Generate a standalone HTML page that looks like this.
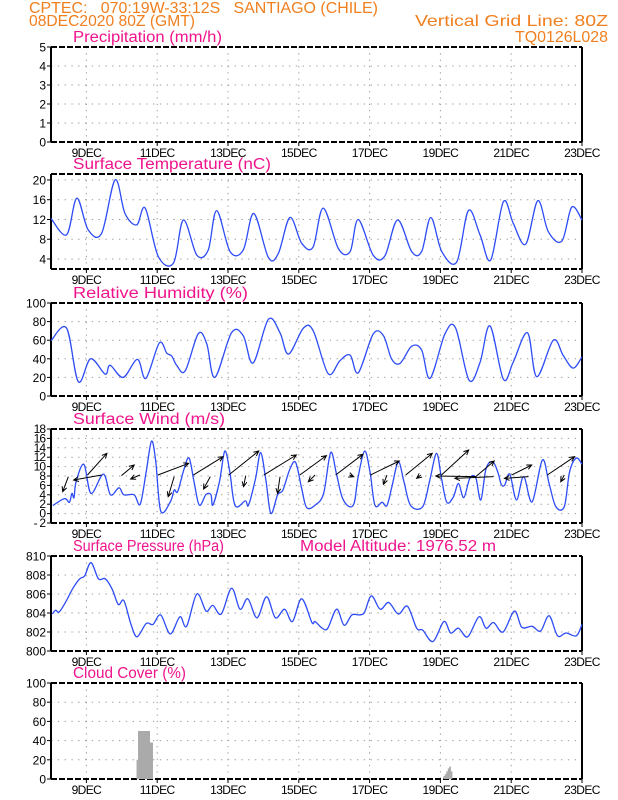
<!DOCTYPE html>
<html><head><meta charset="utf-8">
<style>
html,body{margin:0;padding:0;background:#fff;}
svg{display:block;font-family:"Liberation Sans",sans-serif;}
.hdr{fill:#f07f1f;font-size:16px;}
.ttl{fill:#f0148c;font-size:15.5px;}
.tick{fill:#000;font-size:12px;}
.dl{fill:#000;font-size:12px;letter-spacing:-0.6px;}
</style></head>
<body>
<svg id="chart" width="618" height="800" viewBox="0 0 618 800">
<text class="hdr" x="29" y="13" textLength="349" lengthAdjust="spacingAndGlyphs" xml:space="preserve">CPTEC:   070:19W-33:12S   SANTIAGO (CHILE)</text>
<text class="hdr" x="29" y="26" textLength="166" lengthAdjust="spacingAndGlyphs">08DEC2020 80Z (GMT)</text>
<text class="hdr" x="415" y="26" textLength="193" lengthAdjust="spacingAndGlyphs">Vertical Grid Line: 80Z</text>
<text class="hdr" x="515" y="42" textLength="93" lengthAdjust="spacingAndGlyphs">TQ0126L028</text>
</svg>
<script>
// ---- data (time in days since 08DEC 00Z-ish) ----
const dateLabels = ["9DEC","11DEC","13DEC","15DEC","17DEC","19DEC","21DEC","23DEC"];
const dateDays = [1,3,5,7,9,11,13,15];
const tempDays = [0,0.44,0.73,1.05,1.43,1.81,2.09,2.42,2.66,3.03,3.46,3.74,4.12,4.44,4.68,5.06,5.43,5.73,6.14,6.42,6.75,7.08,7.4,7.69,8.12,8.45,8.68,9.1,9.43,9.79,10.19,10.47,10.73,11.04,11.46,11.79,12.12,12.42,12.78,13.06,13.41,13.75,14.05,14.43,14.71,15];
const tempVals = [12.2,8.9,16.3,9.9,9.2,20,13.2,10.9,14.3,4.5,3.2,11.9,4.8,5.8,13.8,5.5,5.8,13.2,4.3,5.1,12.4,7.2,6.4,14.3,6.1,5.5,12,4.8,4.6,11.9,5.5,5.5,12.4,5.5,3.4,13.8,8.9,3.8,15.6,11.2,7.0,15.8,9.5,7.6,14.5,11.9];
const rhDays = [0,0.44,0.77,1.12,1.53,1.67,2.04,2.44,2.68,3.06,3.27,3.41,3.55,3.79,4.16,4.4,4.63,5.1,5.43,5.71,6.14,6.47,6.71,7.13,7.41,7.83,8.16,8.45,8.68,9.1,9.39,9.62,9.86,10.19,10.47,10.71,11.13,11.43,11.81,12.12,12.4,12.78,13.06,13.46,13.72,14.19,14.47,14.75,15];
const rhVals = [59.5,73,15.4,40,23.5,33,20,39.4,19,57,46,43,33,27,67,56,20,68,65,35.5,82.5,68,45,73,70,24,38,44,25,66.6,65,40,35,53.5,49.6,19,67,73,17,36,75.4,18,36.6,68,20.7,60,43.6,30,42];
const windDays = [0.05,0.38,0.52,0.59,0.65,0.71,0.93,1.13,1.48,1.68,1.92,2.06,2.35,2.52,2.69,2.84,2.96,3.1,3.37,3.48,3.58,3.75,3.9,4.04,4.19,4.38,4.52,4.57,4.76,4.91,5.05,5.2,5.49,5.58,5.78,5.92,6.07,6.21,6.4,6.55,6.74,6.91,7.08,7.22,7.46,7.7,7.9,8.07,8.23,8.43,8.57,8.67,8.86,9.01,9.15,9.35,9.49,9.63,9.81,9.97,10.16,10.5,10.7,10.89,11.03,11.18,11.37,11.51,11.66,11.83,12.0,12.14,12.29,12.48,12.62,12.72,12.82,12.96,13.15,13.35,13.59,13.88,14.07,14.26,14.5,14.65,14.84,15];
const windVals = [1.7,3.2,2.4,4.3,3.4,6.8,10.5,4.3,8.4,4.0,5.5,4.0,4.0,2.0,8.9,15.4,11.0,0.55,2.5,5.0,4.7,9.3,11.8,6.8,1.8,4.1,4.0,1.8,6.8,13.3,8.9,1.7,2.7,1.8,7.5,13.0,7.1,0.05,4.0,5.0,9.3,10.9,5.4,1.3,1.8,4.3,13.0,8.2,3.4,1.5,2.4,7.5,13.3,8.9,1.8,2.4,1.7,5.7,11.0,6.8,1.7,1.5,7.1,12.8,7.5,2.4,3.6,6.4,3.4,7.5,7.6,2.9,9.6,11.0,8.9,6.2,6.1,8.4,2.9,7.9,2.5,11.4,6.4,1.5,1.5,8.9,11.8,10.5];
const arrowStartDays = [0.49,1.03,1.43,1.99,2.51,3.02,3.48,4.02,4.5,5.02,5.5,6.01,6.47,7.03,7.46,8.04,8.43,9.02,9.49,10.02,10.45,11.03,12.0,12.0,12.5,13.01,13.49,14.02,14.5];
const arrowStartVals = [7.86,8.21,8.21,8.07,8.21,8.21,7.86,8.21,7.86,8.21,8.07,8.21,7.86,8.21,8.21,8.21,8.21,8.21,8.21,8.21,8.21,8.21,7.86,7.86,7.86,8.21,7.86,8.21,8.21];
const arrowEndDays = [0.33,1.58,0.64,2.35,2.25,3.89,3.31,4.86,4.31,5.87,5.44,6.93,6.4,7.78,7.27,8.81,8.55,9.84,9.39,10.77,10.33,11.8,10.87,12.52,11.41,13.58,12.81,14.79,14.4];
const arrowEndVals = [4.67,12.82,7.15,10.34,7.36,10.7,3.6,12.11,5.23,13.32,5.73,12.47,4.31,12.33,6.79,12.61,7.86,11.19,6.23,12.82,7.5,13.53,8.0,11.19,7.5,10.34,7.5,12.11,6.79];
const presDays = [0.04,0.13,0.23,0.42,0.62,0.81,0.95,1.13,1.34,1.53,1.73,1.9,2.06,2.26,2.43,2.69,2.88,3.1,3.37,3.64,3.83,4.12,4.38,4.57,4.81,5.1,5.34,5.56,5.82,6.09,6.34,6.6,6.82,7.08,7.37,7.46,7.66,7.82,8.07,8.28,8.5,8.72,8.86,9.05,9.3,9.54,9.81,10.07,10.33,10.5,10.79,11.1,11.29,11.51,11.77,12.09,12.29,12.5,12.77,13.09,13.3,13.59,13.83,14.07,14.31,14.55,14.84,15.0];
const presVals = [803.9,804.3,804.1,805.2,806.6,807.6,807.9,809.3,807.6,807.6,806.5,804.9,805.3,802.8,801.5,802.9,802.8,803.8,801.8,803.6,802.6,806.0,804.2,804.8,803.9,806.6,804.4,805.5,803.5,805.7,803.5,804.4,803.1,805.5,803.0,803.1,802.4,802.4,804.4,802.7,803.8,803.8,804.1,805.8,804.4,805.1,803.9,804.7,802.4,802.2,801.0,803.1,801.9,802.4,801.5,803.6,802.4,803.0,802.0,804.2,802.5,802.6,802.1,803.7,801.6,801.9,801.6,802.8];
const cloudHours = [58,59,60,61,62,63,64,65,66,67,68,266,267,268,269,270,271];
const cloudVals = [20,50,50,50,50,50,50,50,50,38,38,3,5,8,11,13,8];

const NS="http://www.w3.org/2000/svg";
const svg=document.getElementById('chart');
const X0=51,X1=582,NDAYS=15;
function xScale(d){return X0+d*(X1-X0)/NDAYS;}
function mk(tag,attrs,parent){const e=document.createElementNS(NS,tag);for(const k in attrs)e.setAttribute(k,attrs[k]);(parent||svg).appendChild(e);return e;}

const panels=[
 {key:'precip',title:'Precipitation (mm/h)',tw:149,top:47,bot:142,min:0,max:5,ticks:[0,1,2,3,4,5]},
 {key:'temp',title:'Surface Temperature (nC)',tw:198,top:174,bot:269,min:1.98,max:21.2,ticks:[4,8,12,16,20]},
 {key:'rh',title:'Relative Humidity (%)',tw:175,top:303,bot:396,min:0,max:100,ticks:[0,20,40,60,80,100]},
 {key:'wind',title:'Surface Wind (m/s)',tw:152,top:429,bot:523,min:-2,max:18,ticks:[-2,0,2,4,6,8,10,12,14,16,18],small:true},
 {key:'pres',title:'Surface Pressure (hPa)',tw:151,top:556,bot:651,min:800,max:810,ticks:[800,802,804,806,808,810]},
 {key:'cloud',title:'Cloud Cover (%)',tw:113,top:683,bot:779,min:0,max:100,ticks:[0,20,40,60,80,100]}
];
function yScaleFor(p){return v=>p.bot-(v-p.min)/(p.max-p.min)*(p.bot-p.top);}

function smoothPath(xs,ys){
 let d='M'+xs[0].toFixed(1)+','+ys[0].toFixed(1);
 for(let i=0;i<xs.length-1;i++){
  const x0=xs[Math.max(i-1,0)],y0=ys[Math.max(i-1,0)],x1=xs[i],y1=ys[i],x2=xs[i+1],y2=ys[i+1],x3=xs[Math.min(i+2,xs.length-1)],y3=ys[Math.min(i+2,xs.length-1)];
  const c1x=x1+(x2-x0)/6,c1y=y1+(y2-y0)/6,c2x=x2-(x3-x1)/6,c2y=y2-(y3-y1)/6;
  d+=' C'+c1x.toFixed(1)+','+c1y.toFixed(1)+' '+c2x.toFixed(1)+','+c2y.toFixed(1)+' '+x2.toFixed(1)+','+y2.toFixed(1);
 }
 return d;
}

panels.forEach(p=>{
 const y=yScaleFor(p);
 const g=mk('g',{});
 
 
 const t=mk('text',{x:73,y:p.top-5,class:'ttl',textLength:p.tw,lengthAdjust:'spacingAndGlyphs'},g);
 t.textContent=p.title;
 
 
 p.ticks.forEach(v=>{
  const yy=y(v);
  if(yy>p.top+1&&yy<p.bot-1){
   const gl=mk('line',{x1:X0,x2:X1,y1:yy,y2:yy,stroke:'#999','stroke-width':1,'stroke-dasharray':'1.3,5.5'},g);
   
   
  }
  const tk=mk('line',{x1:X0-4,x2:X0,y1:yy,y2:yy,stroke:'#000','stroke-width':1},g);
  
  
  const lb=mk('text',{x:X0-5,y:yy+4.5,'text-anchor':'end',class:'tick','font-size':p.small?'11.5px':'12.5px'},g);
  if(p.small){lb.setAttribute('y',yy+4);lb.setAttribute('textLength',(String(v).length*6.2));}
  lb.textContent=v;
  
  
 });
 dateDays.forEach((d,i)=>{
  const xx=xScale(d);
  if(d<NDAYS){
   const vl=mk('line',{x1:xx,x2:xx,y1:p.top,y2:p.bot,stroke:'#999','stroke-width':1,'stroke-dasharray':'1.3,5'},g);
   
   
  }
  const tk=mk('line',{x1:xx,x2:xx,y1:p.bot,y2:p.bot+4,stroke:'#000','stroke-width':1},g);
  
  
  const dl=mk('text',{x:xx,y:p.bot+15,'text-anchor':'middle',class:'dl'},g);
  dl.textContent=dateLabels[i];
  
  
 });
 const lf=mk('line',{x1:X0,x2:X0,y1:p.top,y2:p.bot,stroke:'#000','stroke-width':2},g);
 
 
 const rf=mk('line',{x1:X1,x2:X1,y1:p.top,y2:p.bot,stroke:'#000','stroke-width':2},g);
 
 
 const tf=mk('line',{x1:X0,x2:X1,y1:p.top,y2:p.top,stroke:'#000','stroke-width':2,'stroke-dasharray':'6,2'},g);
 
 
 const bf=mk('line',{x1:X0,x2:X1,y1:p.bot,y2:p.bot,stroke:'#000','stroke-width':2,'stroke-dasharray':'6,2'},g);
 
 
 p.y=y;p.g=g;
});

function drawLine(p,days,vals,name){
 const xs=days.map(xScale),ys=vals.map(p.y);
 const path=mk('path',{d:smoothPath(xs,ys),fill:'none',stroke:'#2d4cf5','stroke-width':1.3},p.g);
 
 
}
const P={};panels.forEach(p=>P[p.key]=p);
drawLine(P.temp,tempDays,tempVals,'temperature-line');
drawLine(P.rh,rhDays,rhVals,'humidity-line');
drawLine(P.wind,windDays,windVals,'wind-speed-line');
drawLine(P.pres,presDays,presVals,'pressure-line');

arrowStartDays.forEach((d,i)=>{
 const x1=xScale(d),y1=P.wind.y(arrowStartVals[i]),x2=xScale(arrowEndDays[i]),y2=P.wind.y(arrowEndVals[i]);
 const a=Math.atan2(y2-y1,x2-x1),h=5.5;
 const hx1=x2-h*Math.cos(a-0.45),hy1=y2-h*Math.sin(a-0.45),hx2=x2-h*Math.cos(a+0.45),hy2=y2-h*Math.sin(a+0.45);
 const ar=mk('path',{d:`M${x1},${y1} L${x2},${y2} M${hx1},${hy1} L${x2},${y2} L${hx2},${hy2}`,fill:'none',stroke:'#000','stroke-width':1},P.wind.g);
 
 
});

const HW=(X1-X0)/NDAYS/24;
cloudHours.forEach((h,i)=>{
 const x=X0+h*HW,yv=P.cloud.y(cloudVals[i]);
 const r=mk('rect',{x:x,y:yv,width:HW+0.2,height:P.cloud.bot-yv,fill:'#aaaaaa'},P.cloud.g);
 
 
});

const ma=mk('text',{x:300,y:P.pres.top-5,class:'ttl',textLength:196,lengthAdjust:'spacingAndGlyphs'});
ma.textContent='Model Altitude: 1976.52 m';


</script>
</body></html>
